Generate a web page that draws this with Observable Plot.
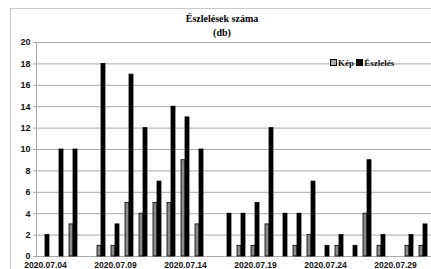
<!DOCTYPE html>
<html><head><meta charset="utf-8">
<script src="https://cdn.jsdelivr.net/npm/d3@7"></script>
<script src="https://cdn.jsdelivr.net/npm/@observablehq/plot@0.6"></script>
<style>
body{margin:0;width:431px;height:269px;overflow:hidden;background:#fff;position:relative}
#frame{position:absolute;left:10px;top:8px;width:460px;height:320px;border:1px solid #c8c8c8}
#chart{position:absolute;left:0;top:0}
#chart svg text{font-family:"Liberation Sans",Arial,sans-serif;font-weight:bold;fill:#111}
#title{position:absolute;left:0;width:444px;top:12px;text-align:center;font:bold 10px/14px "Liberation Serif",serif;color:#000}
#legend{position:absolute;left:330px;top:58px;font:bold 9px/10px "Liberation Serif",serif;color:#111;white-space:nowrap}
#legend span.sw{display:inline-block;width:5px;height:5px;border:1px solid #000;margin-right:1px;vertical-align:0px}
</style></head>
<body>
<div id="frame"></div>
<div id="chart"></div>
<div id="title">Észlelések száma<br>(db)</div>
<div id="legend"><span class="sw" style="background:#aaa"></span>Kép <span class="sw" style="background:#000"></span>Észlelés</div>
<script>
const days = ["2020.07.04","2020.07.05","2020.07.06","2020.07.07","2020.07.08","2020.07.09","2020.07.10","2020.07.11","2020.07.12","2020.07.13","2020.07.14","2020.07.15","2020.07.16","2020.07.17","2020.07.18","2020.07.19","2020.07.20","2020.07.21","2020.07.22","2020.07.23","2020.07.24","2020.07.25","2020.07.26","2020.07.27","2020.07.28","2020.07.29","2020.07.30","2020.07.31"];
const kep = [0,0,3,0,1,1,5,4,5,5,9,3,0,0,1,1,3,0,1,2,0,1,0,4,1,0,1,1];
const eszleles = [2,10,10,0,18,3,17,12,7,14,13,10,0,4,4,5,12,4,4,7,1,2,1,9,2,0,2,3];
const tickDays = ["2020.07.04","2020.07.09","2020.07.14","2020.07.19","2020.07.24","2020.07.29"];
const yTicks = [0,2,4,6,8,10,12,14,16,18,20];

const kepData = days.map((d,i)=>({day:d, v:kep[i]})).filter(d=>d.v>0);
const eszData = days.map((d,i)=>({day:d, v:eszleles[i]})).filter(d=>d.v>0);

const chart = Plot.plot({
  width: 431, height: 280,
  marginLeft: 36, marginRight: 0, marginTop: 42, marginBottom: 24,
  x: {type:"band", domain: days, padding: 0, insetLeft: 2, insetRight: 1, label: null},
  y: {domain:[0,20], label: null},
  marks: [
    Plot.gridY(yTicks, {stroke:"#a8a8a8", strokeOpacity:1}),
    Plot.ruleY([0], {stroke:"#a8a8a8"}),
    Plot.ruleX([days[0]], {y1:0, y2:20, dx:-9, stroke:"#a8a8a8"}),
    Plot.axisY({ticks: yTicks, tickSize: 3, tickPadding: 3, fontSize: 9, stroke:"#a8a8a8", label: null}),
    Plot.axisX({tickSize: 0, tickPadding: 5.5, fontSize: 8.5, label: null, tickFormat: d => tickDays.includes(d) ? d : ""}),
    Plot.barY(kepData, {x:"day", y:"v", fill:"#8a8a8a", stroke:"#000", strokeWidth:0.8, insetLeft:5, insetRight:5, dx:-2}),
    Plot.barY(eszData, {x:"day", y:"v", fill:"#000", stroke:"#000", strokeWidth:0.8, insetLeft:5, insetRight:5, dx:2})
  ]
});
document.getElementById("chart").appendChild(chart);
</script>
</body></html>
